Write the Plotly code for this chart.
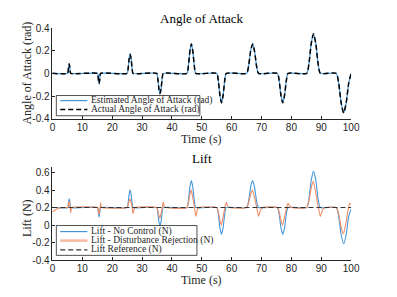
import plotly.graph_objects as go

# ---- Angle of attack (estimated == actual) ----
t_aoa = [0, 5.1, 5.27, 5.43, 5.6, 5.77, 5.93, 6.1,
         15.1, 15.27, 15.43, 15.6, 15.77, 15.93, 16.1,
         25.0, 25.33, 25.67, 26.0, 26.33, 26.67, 27.0,
         34.9, 35.27, 35.63, 36.0, 36.37, 36.73, 37.1,
         45.0, 45.5, 46.0, 46.5, 47.0, 47.5, 48.0,
         55.0, 55.53, 56.07, 56.6, 57.13, 57.67, 58.2,
         65.0, 65.67, 66.33, 67.0, 67.67, 68.33, 69.0,
         75.3, 75.9, 76.5, 77.1, 77.7, 78.3, 78.9,
         85.1, 85.87, 86.63, 87.4, 88.17, 88.93, 89.7,
         95.0, 95.83, 96.67, 97.5, 98.33, 99.17, 100.0]
aoa_est = [0, 0, 0.021, 0.064, 0.085, 0.064, 0.021, 0,
           0, -0.022, -0.068, -0.09, -0.068, -0.022, 0,
           0, 0.042, 0.128, 0.17, 0.128, 0.042, 0,
           0, -0.045, -0.135, -0.18, -0.135, -0.045, 0,
           0, 0.065, 0.195, 0.26, 0.195, 0.065, 0,
           0, -0.065, -0.195, -0.26, -0.195, -0.065, 0,
           0, 0.065, 0.195, 0.26, 0.195, 0.065, 0,
           0, -0.065, -0.195, -0.26, -0.195, -0.065, 0,
           0, 0.0875, 0.2625, 0.35, 0.2625, 0.0875, 0,
           0, -0.0875, -0.2625, -0.35, -0.2625, -0.0875, 0]
aoa_act = list(aoa_est)

# ---- Lift ----
lift_nc = [0.2, 0.2, 0.225, 0.275, 0.30, 0.275, 0.225, 0.2,
           0.2, 0.174, 0.12, 0.094, 0.12, 0.174, 0.2,
           0.2, 0.25, 0.351, 0.40, 0.351, 0.25, 0.2,
           0.2, 0.147, 0.041, -0.012, 0.041, 0.147, 0.2,
           0.2, 0.277, 0.43, 0.507, 0.43, 0.277, 0.2,
           0.2, 0.123, -0.03, -0.107, -0.03, 0.123, 0.2,
           0.2, 0.277, 0.43, 0.507, 0.43, 0.277, 0.2,
           0.2, 0.123, -0.03, -0.107, -0.03, 0.123, 0.2,
           0.2, 0.303, 0.51, 0.613, 0.51, 0.303, 0.2,
           0.2, 0.097, -0.11, -0.213, -0.11, 0.097, 0.185]

t_dr = [0, 1, 2, 3, 4.5,
        5.1, 5.27, 5.43, 5.58, 5.77, 5.95, 6.1, 6.25, 6.45,
        15.1, 15.27, 15.43, 15.58, 15.77, 15.95, 16.1, 16.25, 16.45,
        25.0, 25.33, 25.67, 25.95, 26.33, 26.7, 27.0, 27.3, 27.7,
        34.9, 35.27, 35.63, 35.95, 36.37, 36.77, 37.1, 37.43, 37.87,
        45.0, 45.5, 46.0, 46.43, 47.0, 47.55, 48.0, 48.45, 49.05,
        55.0, 55.53, 56.07, 56.52, 57.13, 57.72, 58.2, 58.68, 59.32,
        65.0, 65.67, 66.33, 66.9, 67.67, 68.4, 69.0, 69.6, 70.4,
        75.3, 75.9, 76.5, 77.01, 77.7, 78.36, 78.9, 79.44, 80.16,
        85.1, 85.87, 86.63, 87.29, 88.17, 89.01, 89.7, 90.39, 91.31,
        95.0, 95.83, 96.67, 97.37, 98.33, 99.1, 99.6, 100.0]
lift_dr = [0.15, 0.175, 0.19, 0.197, 0.2,
           0.2, 0.2175, 0.2525, 0.27, 0.2385, 0.2, 0.14, 0.182, 0.2,
           0.2, 0.18, 0.14, 0.12, 0.156, 0.2, 0.255, 0.2165, 0.2,
           0.2, 0.225, 0.275, 0.3, 0.255, 0.2, 0.13, 0.179, 0.2,
           0.2, 0.17, 0.11, 0.08, 0.134, 0.2, 0.26, 0.218, 0.2,
           0.2, 0.25, 0.35, 0.4, 0.31, 0.2, 0.1, 0.17, 0.2,
           0.2, 0.15, 0.05, 0.0, 0.09, 0.2, 0.26, 0.218, 0.2,
           0.2, 0.25, 0.35, 0.4, 0.31, 0.2, 0.1, 0.17, 0.2,
           0.2, 0.15, 0.05, 0.0, 0.09, 0.2, 0.25, 0.215, 0.2,
           0.2, 0.275, 0.425, 0.5, 0.365, 0.2, 0.1, 0.17, 0.2,
           0.2, 0.125, -0.025, -0.1, 0.035, 0.2, 0.25, 0.235]

t_ref = [0, 100]
lift_ref = [0.2, 0.2]

x_ticks = [0, 10, 20, 30, 40, 50, 60, 70, 80, 90, 100]
y1_ticks = [-0.4, -0.2, 0, 0.2, 0.4]
y1_text = ["-0.4", "-0.2", "0", "0.2", "0.4"]
y2_ticks = [-0.4, -0.2, 0, 0.2, 0.4, 0.6]
y2_text = ["-0.4", "-0.2", "0", "0.2", "0.4", "0.6"]

legend1_names = ["Estimated Angle of Attack (rad)", "Actual Angle of Attack (rad)"]
legend2_names = ["Lift - No Control (N)", "Lift - Disturbance Rejection (N)", "Lift Reference (N)"]

BLUE = "#4397d8"
ORANGE = "#ef8d66"
ORANGE_LEG = "#f6bba3"
AX = "#262626"
SERIF = "Liberation Serif, DejaVu Serif, serif"
SANS = "Liberation Sans, Arial, sans-serif"
DASH = "5px,3px"

W, H = 397, 297
def px(x): return x / W
def py(y): return 1 - y / H

fig = go.Figure()
fig.add_trace(go.Scatter(x=t_aoa, y=aoa_est, mode="lines", line=dict(color=BLUE, width=1.2, shape="spline", smoothing=0.6),
                         name=legend1_names[0], xaxis="x", yaxis="y"))
fig.add_trace(go.Scatter(x=t_aoa, y=aoa_act, mode="lines", line=dict(color="black", width=1.5, dash=DASH, shape="spline", smoothing=0.6),
                         name=legend1_names[1], xaxis="x", yaxis="y"))
fig.add_trace(go.Scatter(x=t_aoa, y=lift_nc, mode="lines", line=dict(color=BLUE, width=1.1, shape="spline", smoothing=0.6),
                         name=legend2_names[0], xaxis="x2", yaxis="y2"))
fig.add_trace(go.Scatter(x=t_dr, y=lift_dr, mode="lines", line=dict(color=ORANGE, width=1.1, shape="spline", smoothing=0.6),
                         name=legend2_names[1], xaxis="x2", yaxis="y2"))
fig.add_trace(go.Scatter(x=t_ref, y=lift_ref, mode="lines", line=dict(color="#333333", width=1.1, dash=DASH),
                         name=legend2_names[2], xaxis="x2", yaxis="y2"))

xdom = [px(51), px(359)]
xc = 0.5 * (xdom[0] + xdom[1])
axcommon = dict(showline=True, linecolor=AX, linewidth=0.8, ticks="inside", ticklen=3, tickcolor=AX,
                showgrid=False, zeroline=False, tickfont=dict(family=SANS, size=10, color=AX), mirror=False)

# ---- hand-drawn legends (boxes, sample lines, labels) ----
shapes = []
annots = []
def legend_box(x0, x1, y0, y1, rows):
    shapes.append(dict(type="rect", xref="paper", yref="paper", x0=px(x0), x1=px(x1), y0=py(y1), y1=py(y0),
                       line=dict(color=AX, width=0.8), fillcolor="white", layer="above"))
    for yy, name, lstyle in rows:
        shapes.append(dict(type="line", xref="paper", yref="paper", x0=px(59), x1=px(87), y0=py(yy), y1=py(yy),
                           line=lstyle, layer="above"))
        annots.append(dict(text=name, x=px(88.5), y=py(yy), xref="paper", yref="paper", xanchor="left", yanchor="middle",
                           showarrow=False, font=dict(family=SERIF, size=9.5, color=AX)))

legend_box(55, 203, 94, 115, [
    (99.3, legend1_names[0], dict(color=BLUE, width=1.2)),
    (108.6, legend1_names[1], dict(color="black", width=1.5, dash=DASH)),
])
legend_box(55, 200, 229, 260, [
    (235.3, legend2_names[0], dict(color=BLUE, width=1.2)),
    (244.7, legend2_names[1], dict(color=ORANGE_LEG, width=2.6)),
    (254.2, legend2_names[2], dict(color="#333333", width=1.2, dash=DASH)),
])

def label(text, x, y, size, angle=0, color=AX):
    annots.append(dict(text=text, x=x, y=y, xref="paper", yref="paper", showarrow=False, textangle=angle,
                       xanchor="center", yanchor="middle", font=dict(family=SERIF, size=size, color=color)))

label("Angle of Attack", xc, py(14), 13, color="black")
label("Lift", xc, py(159), 13, color="black")
label("Time (s)", xc, py(139), 12)
label("Time (s)", xc, py(286), 12)
label("Angle of Attack (rad)", px(25), py(71), 12, angle=-90)
label("Lift (N)", px(25), py(221), 12, angle=-90)

fig.update_layout(
    width=W, height=H, margin=dict(l=0, r=0, t=0, b=0),
    paper_bgcolor="white", plot_bgcolor="white", showlegend=False,
    xaxis=dict(domain=xdom, range=[0, 100], tickvals=x_ticks, anchor="y", ticklabelstandoff=-1, **axcommon),
    yaxis=dict(domain=[py(118), py(24)], range=[-0.4, 0.4], tickvals=y1_ticks, ticktext=y1_text, anchor="x", **axcommon),
    xaxis2=dict(domain=xdom, range=[0, 100], tickvals=x_ticks, anchor="y2", ticklabelstandoff=-1, **axcommon),
    yaxis2=dict(domain=[py(265), py(168)], range=[-0.4, 0.665], tickvals=y2_ticks, ticktext=y2_text, anchor="x2", **axcommon),
    shapes=shapes,
    annotations=annots,
)

fig.write_html("out.html", config={"displayModeBar": False},
               post_script="document.body.style.margin='0';document.body.style.overflow='hidden';")
